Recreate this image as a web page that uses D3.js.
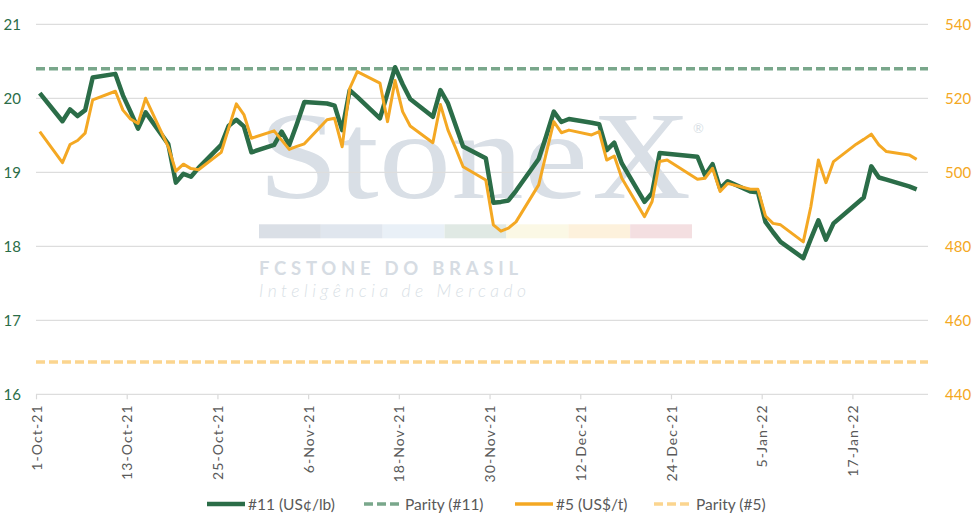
<!DOCTYPE html>
<html>
<head>
<meta charset="utf-8">
<script src="https://cdn.jsdelivr.net/npm/d3@7"></script>
<style>
	body { margin: 0; background: #fff; }
	text { font-family: Lato, "Open Sans", sans-serif; }
</style>
</head>
<body>
<svg id="sugarChart"></svg>
<script>
var dates = [
	"2021-10-01", "2021-10-04", "2021-10-05", "2021-10-06", "2021-10-07", "2021-10-08", "2021-10-11", "2021-10-12", "2021-10-13", "2021-10-14", "2021-10-15",
	"2021-10-18", "2021-10-19", "2021-10-20", "2021-10-21", "2021-10-22", "2021-10-25", "2021-10-26", "2021-10-27", "2021-10-28", "2021-10-29",
	"2021-11-01", "2021-11-02", "2021-11-03", "2021-11-04", "2021-11-05", "2021-11-08", "2021-11-09", "2021-11-10", "2021-11-11", "2021-11-12", "2021-11-15",
	"2021-11-16", "2021-11-17", "2021-11-18", "2021-11-19", "2021-11-22", "2021-11-23", "2021-11-24", "2021-11-25", "2021-11-26", "2021-11-29", "2021-11-30",
	"2021-12-01", "2021-12-02", "2021-12-03", "2021-12-06", "2021-12-07", "2021-12-08", "2021-12-09", "2021-12-10", "2021-12-13", "2021-12-14", "2021-12-15",
	"2021-12-16", "2021-12-17", "2021-12-20", "2021-12-21", "2021-12-22", "2021-12-23", "2021-12-27", "2021-12-28", "2021-12-29", "2021-12-30", "2021-12-31",
	"2022-01-03", "2022-01-04", "2022-01-05", "2022-01-06", "2022-01-07", "2022-01-10", "2022-01-11", "2022-01-12", "2022-01-13", "2022-01-14",
	"2022-01-17", "2022-01-18", "2022-01-19", "2022-01-20", "2022-01-21", "2022-01-24", "2022-01-25"
];

// ICE #11 (US cents/lb), null = no session
var ny11 = [
	20.07, 19.69, 19.85, 19.76, 19.84, 20.28, 20.33, 20.04, 19.82, 19.59, 19.81,
	19.38, 18.86, 18.98, 18.94, 19.06, 19.37, 19.63, 19.71, 19.62, 19.27,
	19.37, 19.55, 19.37, 19.65, 19.95, 19.93, 19.90, 19.57, 20.11, 20.02, 19.73,
	20.07, 20.42, 20.19, 19.99, 19.75, 20.11, 19.93, null, 19.35, 19.19, 18.59,
	18.60, 18.62, 18.75, 19.18, 19.49, 19.82, 19.68, 19.72, 19.67, 19.65, 19.30,
	19.40, 19.12, 18.60, 18.72, 19.26, 19.25, 19.21, 18.96, 19.11, 18.78, 18.88,
	18.74, 18.73, 18.33, 18.19, 18.06, 17.84, 18.10, 18.35, 18.09, 18.31,
	null, 18.66, 19.08, 18.93, 18.90, 18.81, 18.77
];

// ICE #5 (US$/t)
var ldn5 = [
	511.0, 502.6, 507.5, 508.6, 510.6, 519.6, 521.9, 516.8, 514.4, 513.2, 520.0,
	506.9, 500.3, 502.2, 501.0, 500.7, 505.4, 512.0, 518.5, 515.6, 509.2,
	511.2, 508.7, 506.2, 507.0, 507.7, 514.2, 514.6, 506.9, 522.7, 527.2, 524.1,
	513.7, 524.8, 516.4, 512.5, 508.0, 518.3, 511.4, 506.6, 501.5, 497.9, 485.8,
	484.1, 484.9, 486.6, 496.6, 505.2, 513.7, 510.7, 511.4, 510.1, 511.0, 503.3,
	504.4, 498.4, 488.0, 492.1, 502.9, 503.3, 498.1, 498.4, 501.1, 494.8, 497.0,
	495.4, 495.4, 488.2, 486.2, 485.8, 481.2, 490.7, 503.3, 497.2, 502.9,
	507.6, 508.9, 510.3, 507.4, 505.6, 504.7, 503.5
];

var parity11 = 20.40;
var parity5 = 448.7;

var xTickLabels = ["1-Oct-21", "13-Oct-21", "25-Oct-21", "6-Nov-21", "18-Nov-21", "30-Nov-21", "12-Dec-21", "24-Dec-21", "5-Jan-22", "17-Jan-22"];
var leftTicks = [16, 17, 18, 19, 20, 21];
var rightTicks = [440, 460, 480, 500, 520, 540];
var legendNames = ["#11 (US\u00a2/lb)", "Parity (#11)", "#5 (US$/t)", "Parity (#5)"];

var chartWidth = 975, chartHeight = 528;
var plotLeft = 36, plotRight = 928, plotTop = 24.3, plotBottom = 394.3;
var green = "#2b6d48", greenDash = "#79a78b", orange = "#f4a823", orangeDash = "#fbd58f";

drawChart();

function drawChart() {
	var parseDay = d3.timeParse("%Y-%m-%d");
	var parseTick = d3.timeParse("%d-%b-%y");
	var days = dates.map(function(d) { return d3.timeHour.offset(parseDay(d), 12); });

	var x = d3.scaleTime().domain([parseDay("2021-10-01"), parseDay("2022-01-27")]).range([plotLeft, plotRight]);
	var yL = d3.scaleLinear().domain([16, 21]).range([plotBottom, plotTop]);
	var yR = d3.scaleLinear().domain([440, 540]).range([plotBottom, plotTop]);

	var chart = d3.select("#sugarChart").attr("width", chartWidth).attr("height", chartHeight);

	drawWatermark(chart);

	// gridlines
	chart.append("g").selectAll("line").data(leftTicks).join("line")
		.attr("x1", plotLeft).attr("x2", plotRight)
		.attr("y1", function(d) { return yL(d); }).attr("y2", function(d) { return yL(d); })
		.attr("stroke", "#dddddd").attr("stroke-width", 1.2);

	// left axis
	chart.append("g").attr("transform", "translate(" + plotLeft + ",0)")
		.call(d3.axisLeft(yL).tickValues(leftTicks).tickFormat(d3.format("d")).tickSize(0).tickPadding(15))
		.call(function(g) { g.select(".domain").remove(); })
		.selectAll("text").attr("font-size", 15).attr("fill", green).attr("font-family", "Lato");

	// right axis
	chart.append("g").attr("transform", "translate(" + plotRight + ",0)")
		.call(d3.axisRight(yR).tickValues(rightTicks).tickFormat(d3.format("d")).tickSize(0).tickPadding(17))
		.call(function(g) { g.select(".domain").remove(); })
		.selectAll("text").attr("font-size", 15).attr("fill", orange).attr("font-family", "Lato");

	// bottom axis
	var tickDates = xTickLabels.map(parseTick);
	var xAxis = chart.append("g").attr("transform", "translate(0," + plotBottom + ")")
		.call(d3.axisBottom(x).tickValues(tickDates).tickSize(5).tickFormat(d3.timeFormat("%-d-%b-%y")));
	xAxis.select(".domain").remove();
	xAxis.selectAll(".tick line").attr("stroke", "#d9d9d9").attr("stroke-width", 1.2);
	xAxis.selectAll(".tick text")
		.attr("text-anchor", "end")
		.attr("x", -10).attr("y", 0).attr("dy", "0.72em").attr("dx", 0)
		.attr("transform", "rotate(-90) translate(0,-5)")
		.attr("font-size", 14).attr("letter-spacing", 1.1).attr("fill", "#595959").attr("font-family", "Lato");

	// parity lines
	chart.append("line").attr("x1", plotLeft).attr("x2", plotRight)
		.attr("y1", yR(parity5)).attr("y2", yR(parity5))
		.attr("stroke", orangeDash).attr("stroke-width", 3.5).attr("stroke-dasharray", "9,4");
	chart.append("line").attr("x1", plotLeft).attr("x2", plotRight)
		.attr("y1", yL(parity11)).attr("y2", yL(parity11))
		.attr("stroke", greenDash).attr("stroke-width", 3.5).attr("stroke-dasharray", "9,4");

	var greenPts = [], orangePts = [];
	eachItem(days, function(i, d) {
		if (ny11[i] != null) greenPts.push([x(d), yL(ny11[i])]);
		if (ldn5[i] != null) orangePts.push([x(d), yR(ldn5[i])]);
	});

	chart.append("path").attr("d", d3.line()(greenPts))
		.attr("fill", "none").attr("stroke", green).attr("stroke-width", 4.5).attr("stroke-linejoin", "round");
	chart.append("path").attr("d", d3.line()(orangePts))
		.attr("fill", "none").attr("stroke", orange).attr("stroke-width", 3).attr("stroke-linejoin", "round");

	drawLegend(chart);
}

function eachItem(arr, fn) {
	for (var i = 0; i < arr.length; i++) fn(i, arr[i]);
}

function drawWatermark(chart) {
	var wm = chart.append("g");
	wm.append("text").attr("x", 258).attr("y", 198).text("Stone")
		.attr("font-size", 124).attr("fill", "#d9dfe6")
		.attr("textLength", 330).attr("lengthAdjust", "spacingAndGlyphs")
		.style("font-family", "'Liberation Serif', serif");
	wm.append("text").attr("x", 592).attr("y", 198).text("X")
		.attr("font-size", 124).attr("fill", "#d9dfe6")
		.attr("textLength", 99).attr("lengthAdjust", "spacingAndGlyphs")
		.style("font-family", "'Liberation Serif', serif");
	wm.append("text").attr("x", 693).attr("y", 133).text("\u00ae")
		.attr("font-size", 13).attr("fill", "#d9dfe6");

	var bandColors = ["#dadfe6", "#e0e6ee", "#e9f0f7", "#e0e9e4", "#fbf8e5", "#fdf1dc", "#f4dfe1"];
	var band = d3.scaleBand().domain(d3.range(bandColors.length)).range([259, 692]);
	wm.append("g").selectAll("rect").data(bandColors).join("rect")
		.attr("x", function(d, i) { return band(i); }).attr("y", 224.3)
		.attr("width", band.bandwidth()).attr("height", 14)
		.attr("fill", function(d) { return d; });

	wm.append("text").attr("x", 259).attr("y", 275).text("FCSTONE DO BRASIL")
		.attr("font-size", 18.5).attr("font-weight", "bold").attr("fill", "#d6dce3")
		.attr("textLength", 259).attr("lengthAdjust", "spacing");
	wm.append("text").attr("x", 259).attr("y", 297).text("Intelig\u00eancia de Mercado")
		.attr("font-size", 17.5).attr("font-style", "italic").attr("font-weight", 300).attr("fill", "#d9dfe6")
		.attr("textLength", 267).attr("lengthAdjust", "spacing");
}

function drawLegend(chart) {
	var styles = [
		{ color: green, width: 4.5, dash: null, lx: 207, tx: 248 },
		{ color: greenDash, width: 3.5, dash: "9,4", lx: 364, tx: 405 },
		{ color: orange, width: 3.5, dash: null, lx: 515, tx: 556 },
		{ color: orangeDash, width: 3.5, dash: "9,4", lx: 654, tx: 696 }
	];
	var legend = chart.append("g").attr("transform", "translate(0,504)");
	eachItem(legendNames, function(i, name) {
		var s = styles[i];
		legend.append("line").attr("x1", s.lx).attr("x2", s.lx + 38).attr("y1", 0).attr("y2", 0)
			.attr("stroke", s.color).attr("stroke-width", s.width).attr("stroke-dasharray", s.dash);
		legend.append("text").attr("x", s.tx).attr("y", 0).attr("dy", "0.36em").text(name)
			.attr("font-size", 15.5).attr("fill", "#595959");
	});
}
</script>
</body>
</html>
